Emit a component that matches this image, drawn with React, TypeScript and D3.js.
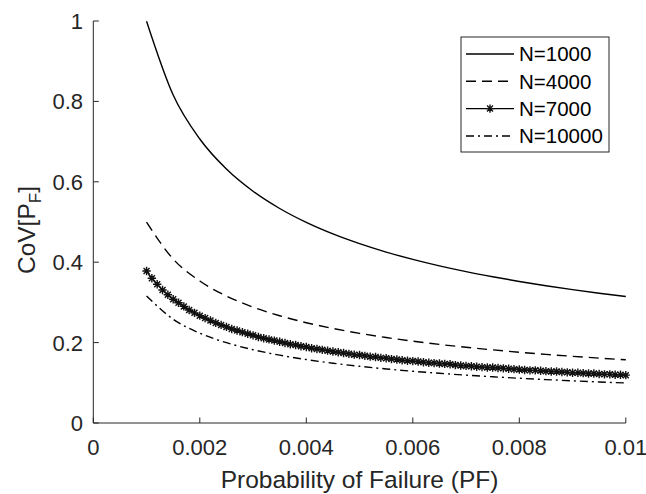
import React from "react";
import * as d3 from "d3";

// Probability of failure grid for the plain curves
const pfCoarse = [0.001, 0.0015, 0.002, 0.0025, 0.003, 0.0035, 0.004, 0.0045, 0.005, 0.0055, 0.006, 0.0065, 0.007, 0.0075, 0.008, 0.0085, 0.009, 0.0095, 0.01];
const covN1000 = [0.9995, 0.8159, 0.7064, 0.6317, 0.5765, 0.5336, 0.499, 0.4703, 0.4461, 0.4252, 0.407, 0.3909, 0.3766, 0.3638, 0.3521, 0.3415, 0.3318, 0.3229, 0.3146];
const covN4000 = [0.4998, 0.4079, 0.3532, 0.3158, 0.2883, 0.2668, 0.2495, 0.2352, 0.223, 0.2126, 0.2035, 0.1955, 0.1883, 0.1819, 0.1761, 0.1707, 0.1659, 0.1614, 0.1573];
const covN10000 = [0.3161, 0.258, 0.2234, 0.1998, 0.1823, 0.1687, 0.1578, 0.1487, 0.1411, 0.1345, 0.1287, 0.1236, 0.1191, 0.115, 0.1113, 0.108, 0.1049, 0.1021, 0.0995];

// Marker series (N=7000)
const pfFine = [
  0.0010, 0.0011, 0.0012, 0.0013, 0.0014, 0.0015, 0.0016, 0.0017, 0.0018, 0.0019,
  0.0020, 0.0021, 0.0022, 0.0023, 0.0024, 0.0025, 0.0026, 0.0027, 0.0028, 0.0029,
  0.0030, 0.0031, 0.0032, 0.0033, 0.0034, 0.0035, 0.0036, 0.0037, 0.0038, 0.0039,
  0.0040, 0.0041, 0.0042, 0.0043, 0.0044, 0.0045, 0.0046, 0.0047, 0.0048, 0.0049,
  0.0050, 0.0051, 0.0052, 0.0053, 0.0054, 0.0055, 0.0056, 0.0057, 0.0058, 0.0059,
  0.0060, 0.0061, 0.0062, 0.0063, 0.0064, 0.0065, 0.0066, 0.0067, 0.0068, 0.0069,
  0.0070, 0.0071, 0.0072, 0.0073, 0.0074, 0.0075, 0.0076, 0.0077, 0.0078, 0.0079,
  0.0080, 0.0081, 0.0082, 0.0083, 0.0084, 0.0085, 0.0086, 0.0087, 0.0088, 0.0089,
  0.0090, 0.0091, 0.0092, 0.0093, 0.0094, 0.0095, 0.0096, 0.0097, 0.0098, 0.0099,
  0.0100,
];
const covN7000 = [
  0.378, 0.360, 0.345, 0.331, 0.319, 0.308, 0.299, 0.290, 0.281, 0.274,
  0.267, 0.261, 0.255, 0.249, 0.244, 0.239, 0.234, 0.230, 0.226, 0.222,
  0.218, 0.214, 0.211, 0.208, 0.205, 0.202, 0.199, 0.196, 0.194, 0.191,
  0.189, 0.186, 0.184, 0.182, 0.180, 0.178, 0.176, 0.174, 0.172, 0.170,
  0.169, 0.167, 0.165, 0.164, 0.162, 0.161, 0.159, 0.158, 0.156, 0.155,
  0.154, 0.153, 0.151, 0.150, 0.149, 0.148, 0.147, 0.146, 0.144, 0.143,
  0.142, 0.141, 0.140, 0.139, 0.138, 0.138, 0.137, 0.136, 0.135, 0.134,
  0.133, 0.132, 0.131, 0.131, 0.130, 0.129, 0.128, 0.128, 0.127, 0.126,
  0.125, 0.125, 0.124, 0.123, 0.123, 0.122, 0.121, 0.121, 0.120, 0.120,
  0.119,
];

const xTicks = [0, 0.002, 0.004, 0.006, 0.008, 0.01];
const xTickLabels = ["0", "0.002", "0.004", "0.006", "0.008", "0.01"];
const yTicks = [0, 0.2, 0.4, 0.6, 0.8, 1];
const yTickLabels = ["0", "0.2", "0.4", "0.6", "0.8", "1"];
const seriesNames = ["N=1000", "N=4000", "N=7000", "N=10000"];

const W = 646;
const H = 494;
const FONT = "'Liberation Sans', Arial, Helvetica, sans-serif";
const AX = "#262626";
const STAR = "M-4.2,0H4.2M0,-4.2V4.2M-3,-3L3,3M-3,3L3,-3";

export default function App() {
  const x = d3.scaleLinear().domain([0, 0.01]).range([93.3, 625.8]);
  const y = d3.scaleLinear().domain([0, 1]).range([423, 21]);
  const line = d3
    .line<[number, number]>()
    .x((d) => x(d[0]))
    .y((d) => y(d[1]))
    .curve(d3.curveMonotoneX);
  const pts = (xs: number[], ys: number[]) => xs.map((v, i) => [v, ys[i]] as [number, number]);

  const styles = [
    { dash: undefined as string | undefined, marker: false },
    { dash: "10,6", marker: false },
    { dash: undefined as string | undefined, marker: true },
    { dash: "8,4,2,4", marker: false },
  ];

  const legX = 461, legY = 37, legW = 148, legH = 115;
  const rowY = [54, 81.3, 108.6, 136];

  return (
    <svg width={W} height={H} style={{ position: "absolute", left: 0, top: 0, background: "#fff" }} fontFamily={FONT}>
      <rect x={0} y={0} width={W} height={H} fill="#fff" />
      {/* curves */}
      <path d={line(pts(pfCoarse, covN1000)) || ""} fill="none" stroke="#000" strokeWidth={1.4} />
      <path d={line(pts(pfCoarse, covN4000)) || ""} fill="none" stroke="#000" strokeWidth={1.4} strokeDasharray="10,6" />
      <path d={line(pts(pfFine, covN7000)) || ""} fill="none" stroke="#000" strokeWidth={1.4} />
      {pfFine.map((v, i) => (
        <path key={i} d={STAR} transform={`translate(${x(v)},${y(covN7000[i])})`} stroke="#111" strokeWidth={1.4} fill="none" />
      ))}
      <path d={line(pts(pfCoarse, covN10000)) || ""} fill="none" stroke="#000" strokeWidth={1.4} strokeDasharray="8,4,2,4" />

      {/* axes */}
      <line x1={x(0)} x2={x(0.01)} y1={y(0)} y2={y(0)} stroke={AX} strokeWidth={1} />
      <line x1={x(0)} x2={x(0)} y1={y(0)} y2={y(1)} stroke={AX} strokeWidth={1} />
      {xTicks.map((t, i) => (
        <g key={"xt" + i}>
          <line x1={x(t)} x2={x(t)} y1={y(0)} y2={y(0) - 5.5} stroke={AX} strokeWidth={1} />
          <text x={x(t)} y={455} textAnchor="middle" fontSize={22} fill={AX}>
            {xTickLabels[i]}
          </text>
        </g>
      ))}
      {yTicks.map((t, i) => (
        <g key={"yt" + i}>
          <line x1={x(0)} x2={x(0) + 5.5} y1={y(t)} y2={y(t)} stroke={AX} strokeWidth={1} />
          <text x={83} y={y(t)} dy="0.36em" textAnchor="end" fontSize={22} fill={AX}>
            {yTickLabels[i]}
          </text>
        </g>
      ))}
      <text x={(x(0) + x(0.01)) / 2} y={488} textAnchor="middle" fontSize={24.5} fill={AX}>
        Probability of Failure (PF)
      </text>
      <text transform={`translate(35,${y(0.48)}) rotate(-90)`} textAnchor="middle" fontSize={24.5} fill={AX}>
        CoV[P<tspan fontSize={17} dy={6}>F</tspan><tspan dy={-6}>]</tspan>
      </text>

      {/* legend */}
      <rect x={legX} y={legY} width={legW} height={legH} fill="#fff" stroke={AX} strokeWidth={1} />
      {seriesNames.map((name, i) => (
        <g key={name}>
          <line x1={466} x2={514} y1={rowY[i]} y2={rowY[i]} stroke="#000" strokeWidth={1.4} strokeDasharray={styles[i].dash} />
          {styles[i].marker && <path d={STAR} transform={`translate(490,${rowY[i]})`} stroke="#111" strokeWidth={1.4} fill="none" />}
          <text x={519} y={rowY[i]} dy="0.36em" fontSize={20.5} fill="#000">
            {name}
          </text>
        </g>
      ))}
    </svg>
  );
}
